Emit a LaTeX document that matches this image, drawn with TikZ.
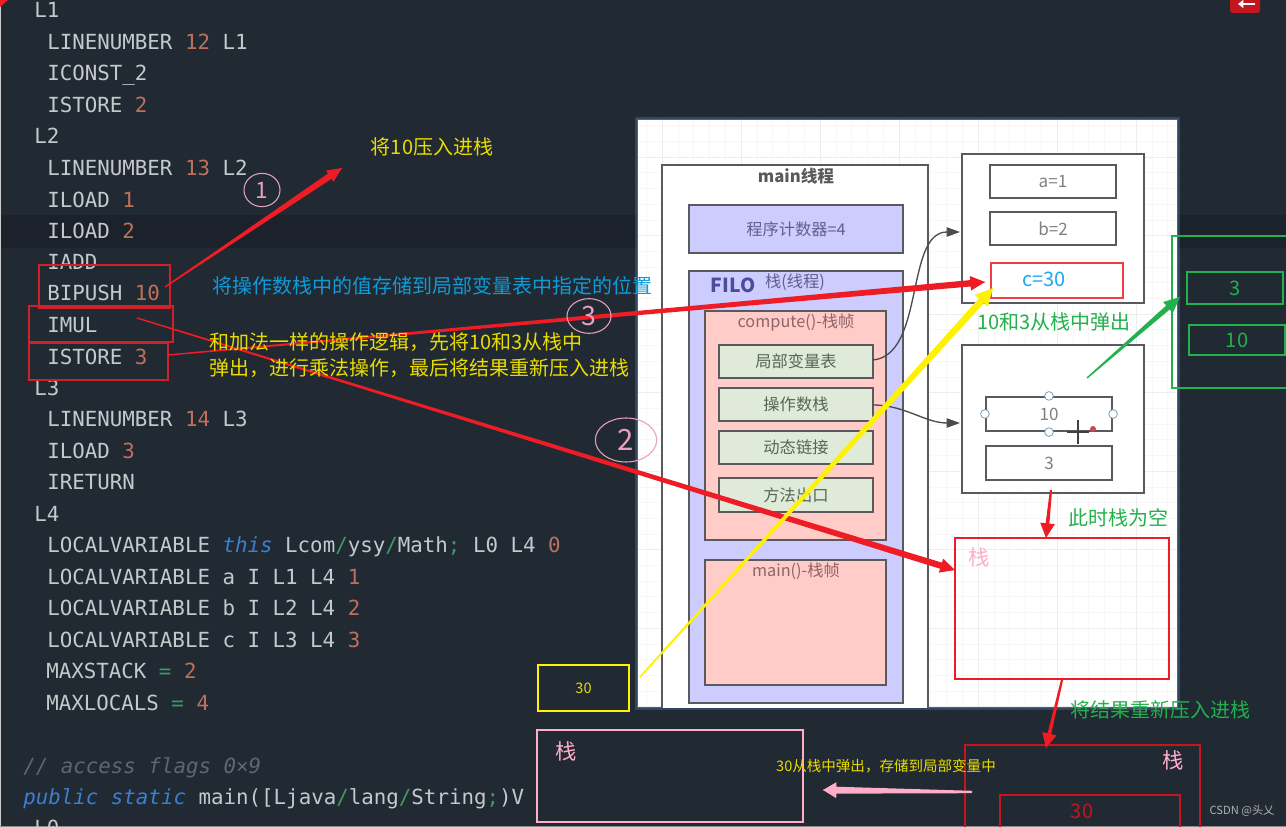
\documentclass[tikz,border=0pt]{standalone}
\usepackage{fontspec}
\setmainfont{Noto Sans CJK SC}
\newfontfamily\codef{DejaVu Sans Mono}
\usetikzlibrary{calc,arrows.meta,shapes.geometric}
\definecolor{bgc}{HTML}{212933}
\definecolor{bandc}{HTML}{1B222B}
\definecolor{codec}{HTML}{C4C9CC}
\definecolor{numc}{HTML}{C0705A}
\definecolor{slashc}{HTML}{3E9A60}
\definecolor{kwc}{HTML}{3A7FD0}
\definecolor{cmtc}{HTML}{5C6772}
\definecolor{redc}{HTML}{EE1C25}
\definecolor{dredc}{HTML}{C4161F}
\definecolor{boxred}{HTML}{D0202A}
\definecolor{yelc}{HTML}{FFF200}
\definecolor{txtyel}{HTML}{E8DC00}
\definecolor{grnc}{HTML}{22B14C}
\definecolor{pinkc}{HTML}{FFAEC9}
\definecolor{handc}{HTML}{E8A0BF}
\definecolor{bluet}{HTML}{0F9AD8}
\definecolor{cyant}{HTML}{1EA7F0}
\definecolor{edgec}{HTML}{5A5A5E}
\definecolor{grayt}{HTML}{808080}
\definecolor{bluef}{HTML}{CCCCFF}
\definecolor{pinkf}{HTML}{FFCCC7}
\definecolor{greenf}{HTML}{DFEBD8}
\definecolor{pct}{HTML}{5F5F90}
\definecolor{grt}{HTML}{566656}
\definecolor{pkt}{HTML}{8F6464}
\definecolor{glowc}{HTML}{4A7FB5}
\tikzset{
  codetxt/.style={anchor=base west,inner sep=0pt,text=codec,font=\codef\fontsize{15.6}{18}\selectfont},
  lbl/.style={inner sep=0pt,font=\fontsize{15}{18}\selectfont},
  smalllbl/.style={inner sep=0pt,font=\fontsize{10.9}{13}\selectfont},
  grayl/.style={inner sep=0pt,font=\fontsize{12.2}{14}\selectfont},
  redbox/.style={draw=boxred,line width=1.1pt},
  grnbox/.style={draw=grnc,line width=0.8pt},
  greybox/.style={draw=edgec,line width=1.6pt,fill=white},
  bluebox/.style={draw=edgec,line width=1.8pt,fill=bluef},
  pinkbox/.style={draw=edgec,line width=1.8pt,fill=pinkf},
  greenbox/.style={draw=edgec,line width=1.6pt,fill=greenf},
  handle/.style={circle,draw=cyan!30!gray,fill=white,line width=.6pt,inner sep=0pt,minimum size=6.5pt},
  handcirc/.style={draw=handc,line width=.8pt,ellipse,inner sep=0pt}
}
\newcommand\cn[1]{\textcolor{numc}{#1}}
\newcommand\cs[1]{\textcolor{slashc}{#1}}
\newcommand\ck[1]{\textcolor{kwc}{\itshape #1}}
\newcommand\bx[7]{\pgfmathsetmacro\bxw{(#5-#3)*0.75}\pgfmathsetmacro\bxh{(#6-#4)*0.75}%
  \node[rectangle,inner sep=0pt,minimum width=\bxw pt,minimum height=\bxh pt,#2] (#1) at ({(#3+#5)/2},{(#4+#6)/2}) {#7};}
\newcommand\taper[7]{\coordinate (tn) at ($(#3)!#6!(#2)$);%
  \fill[#1] ($(#2)!#4!90:(#3)$) -- ($(tn)!#5!90:(#3)$) -- ($(tn)!#7!90:(#3)$) -- (#3) -- ($(tn)!#7!-90:(#3)$) -- ($(tn)!#5!-90:(#3)$) -- ($(#2)!#4!-90:(#3)$) -- cycle;%
  \draw[#1,line width=.4pt] (#2) -- (#3);}
\begin{document}
\begin{tikzpicture}[x=0.75pt,y=-0.75pt]
\useasboundingbox (0,0) rectangle (1286,827);
\clip (0,0) rectangle (1286,827);
\fill[bgc] (0,0) rectangle (1286,827);
\fill[bandc] (0,215) rectangle (1286,248);
\fill[black!20!white] (0,0) rectangle (1.5,827);
\fill[black!45!white] (0,825.5) rectangle (1286,827);
\fill[redc] (0,0) -- (8,0) -- (0,7) -- cycle;
\fill[dredc,rounded corners=2pt] (1230,-4) rectangle (1260,13);
\draw[white,line width=1.5pt,-{Triangle[length=4pt,width=6pt]}] (1255,4) -- (1238,4);
% code
\node[codetxt] (c1) at (34,17.5) {L1};
\node[codetxt] (c2) at (47,49.5) {LINENUMBER \cn{12} L1};
\node[codetxt] (c3) at (47,80.5) {ICONST\_2};
\node[codetxt] (c4) at (47,112.5) {ISTORE \cn{2}};
\node[codetxt] (c5) at (34,143.5) {L2};
\node[codetxt] (c6) at (47,175.5) {LINENUMBER \cn{13} L2};
\node[codetxt] (c7) at (47,207.5) {ILOAD \cn{1}};
\node[codetxt] (c8) at (47,238.5) {ILOAD \cn{2}};
\node[codetxt] (c9) at (47,269.5) {IADD};
\node[codetxt] (c10) at (47,300.5) {BIPUSH \cn{10}};
\node[codetxt] (c11) at (47,332.5) {IMUL};
\node[codetxt] (c12) at (47,364.5) {ISTORE \cn{3}};
\node[codetxt] (c13) at (34,395.5) {L3};
\node[codetxt] (c14) at (47,426.5) {LINENUMBER \cn{14} L3};
\node[codetxt] (c15) at (47,458.5) {ILOAD \cn{3}};
\node[codetxt] (c16) at (47,489.5) {IRETURN};
\node[codetxt] (c17) at (34,521.5) {L4};
\node[codetxt] (c18) at (47,552.5) {LOCALVARIABLE \ck{this} Lcom\cs{/}ysy\cs{/}Math\cs{;} L0 L4 \cn{0}};
\node[codetxt] (c19) at (47,584.5) {LOCALVARIABLE a I L1 L4 \cn{1}};
\node[codetxt] (c20) at (47,615.5) {LOCALVARIABLE b I L2 L4 \cn{2}};
\node[codetxt] (c21) at (47,647.5) {LOCALVARIABLE c I L3 L4 \cn{3}};
\node[codetxt] (c22) at (46,678.5) {MAXSTACK \cs{=} \cn{2}};
\node[codetxt] (c23) at (46,710.5) {MAXLOCALS \cs{=} \cn{4}};
\node[codetxt,text=cmtc] (c24) at (23,773.5) {\itshape // access flags 0×9};
\node[codetxt] (c25) at (23,804.5) {\ck{public} \ck{static} main([Ljava\cs{/}lang\cs{/}String\cs{;})V};
\node[codetxt] (c26) at (34,835.5) {L0};
% red boxes on code
\bx{bip}{redbox}{39}{265}{170}{308}{}
\bx{imu}{redbox}{29}{306}{173}{342}{}
\bx{ist}{redbox}{29}{343}{168}{380}{}
% panel
\fill[glowc,opacity=.35] (635,117) rectangle (1180,710);
\fill[glowc,opacity=.6] (637,119) rectangle (1178,708);
\fill[white] (638,120) rectangle (1177,707);
\begin{scope}
\clip (638,120) rectangle (1177,707);
\foreach \i in {-2,...,34} \draw[black!3,line width=.3pt] ({662+\i*15.8},120) -- ({662+\i*15.8},707);
\foreach \i in {-2,...,36} \draw[black!3,line width=.3pt] (638,{157+\i*15.7}) -- (1177,{157+\i*15.7});
\foreach \i in {0,...,6} \draw[black!7,line width=.5pt] ({662+\i*79},120) -- ({662+\i*79},707);
\foreach \i in {0,...,7} \draw[black!7,line width=.5pt] (638,{157+\i*78.5}) -- (1177,{157+\i*78.5});
\bx{mainth}{greybox}{662}{165}{928}{760}{}
\end{scope}
\node[lbl,text=edgec,font=\bfseries\fontsize{12.5}{14}\selectfont] (mainl) at (796,176) {main线程};
\bx{pc}{bluebox,text=pct}{689}{205}{903}{253}{\fontsize{12.2}{14}\selectfont 程序计数器=4}
\bx{stk}{bluebox}{689}{271}{903}{703}{}
\node[inner sep=0pt,text=black!55!blue!70,font=\bfseries\fontsize{14.5}{16}\selectfont] (filo) at (733,285) {FILO};
\node[grayl,text=pct] (stkl) at (795,282) {栈(线程)};
\bx{cmp}{pinkbox}{705}{311}{886}{540}{}
\node[grayl,text=pkt] (cmpl) at (796,323) {compute()-栈帧};
\bx{lv}{greenbox,text=grt}{719}{345}{873}{378}{\fontsize{12.2}{14}\selectfont 局部变量表}
\bx{os}{greenbox,text=grt}{719}{388}{873}{421}{\fontsize{12.2}{14}\selectfont 操作数栈}
\bx{dl}{greenbox,text=grt}{719}{431}{873}{464}{\fontsize{12.2}{14}\selectfont 动态链接}
\bx{me}{greenbox,text=grt}{719}{478}{873}{512}{\fontsize{12.2}{14}\selectfont 方法出口}
\bx{mf}{pinkbox}{705}{560}{886}{685}{}
\node[grayl,text=pkt] (mfl) at (796,571) {main()-栈帧};
\bx{lvt}{greybox}{962}{154}{1144}{303}{}
\bx{va}{greybox,text=grayt}{990}{165}{1116}{198}{\fontsize{12.8}{14}\selectfont a=1}
\bx{vb}{greybox,text=grayt}{990}{212}{1116}{245}{\fontsize{12.8}{14}\selectfont b=2}
\bx{vc}{draw=redc!85,line width=1pt,fill=white}{991}{263}{1123}{298}{}
\node[lbl,text=cyant] (vct) at (1044,279) {c=30};
\bx{ost}{greybox}{962}{345}{1144}{493}{}
\bx{o10}{greybox,text=grayt}{986}{397}{1112}{431}{\fontsize{12.8}{14}\selectfont 10}
\bx{o3}{greybox,text=grayt}{986}{446}{1112}{480}{\fontsize{12.8}{14}\selectfont 3}
\node[handle] (h1) at (o10.north) {};
\node[handle] (h2) at (o10.south) {};
\node[handle] (h3) at (o10.west) {};
\node[handle] (h4) at (o10.east) {};
\coordinate (curs) at (1078,432);
\draw[black!75,line width=1pt] ($(curs)+(-11,0)$) -- ($(curs)+(11,0)$) ($(curs)+(0,-12)$) -- ($(curs)+(0,12)$);
\fill[red!70!black!70] (1093,429) circle[radius=3];
\coordinate (lvout) at (873,360); \coordinate (lvin) at (960,232);
\coordinate (osout) at (873,405); \coordinate (osin) at (960,423);
\draw[black!70,line width=1pt,-{Triangle[length=10pt,width=7pt]}] (lvout) .. controls (925,355) and (905,232) .. (lvin);
\draw[black!70,line width=1pt,-{Triangle[length=10pt,width=7pt]}] (osout) .. controls (905,405) and (925,423) .. (osin);
% overlay boxes
\bx{rstk}{draw=redc,line width=.9pt}{955}{538}{1169}{679}{}
\node[inner sep=0pt,text=pinkc,font=\fontsize{16}{18}\selectfont] (rstkl) at (979,557) {栈};
\bx{g}{grnbox}{1172}{236}{1300}{388}{}
\bx{g3}{grnbox,text=grnc}{1187}{272}{1283}{304}{\fontsize{15}{18}\selectfont 3}
\bx{g10}{grnbox,text=grnc}{1189}{325}{1285}{355}{\fontsize{15}{18}\selectfont 10}
\bx{y30}{draw=yelc,line width=1.3pt,text=txtyel}{538}{665}{629}{711}{\fontsize{10.9}{13}\selectfont 30}
\bx{pstk}{draw=pinkc,line width=1.3pt}{537}{730}{803}{822}{}
\node[inner sep=0pt,text=pinkc,font=\fontsize{16}{18}\selectfont] (pstkl) at (566,751) {栈};
\bx{dstk}{draw=dredc,line width=1pt}{965}{745}{1200}{860}{}
\node[inner sep=0pt,text=pinkc,font=\fontsize{16}{18}\selectfont] (dstkl) at (1173,760) {栈};
\bx{d30}{draw=dredc,line width=1pt,text=dredc}{1000}{795}{1180}{860}{}
\node[inner sep=0pt,text=dredc,font=\fontsize{15}{18}\selectfont] (d30t) at (1082,811) {30};
% arrows
\coordinate (a1s) at (165,287); \coordinate (a1e) at (342,168);
\coordinate (a2s) at (137,318); \coordinate (a2e) at (955,570);
\coordinate (a3s) at (168,355); \coordinate (a3e) at (985,282);
\coordinate (a4s) at (640,677); \coordinate (a4e) at (993,288);
\coordinate (a5s) at (1087,378); \coordinate (a5e) at (1180,297);
\coordinate (a6s) at (1051,490); \coordinate (a6e) at (1046,538);
\coordinate (a7s) at (1062,680); \coordinate (a7e) at (1046,748);
\coordinate (a8s) at (972,792); \coordinate (a8e) at (823,790);
\taper{redc}{a1s}{a1e}{.5pt}{2.4pt}{11pt}{5pt}
\taper{redc}{a2s}{a2e}{.5pt}{2.4pt}{11pt}{5.5pt}
\taper{redc}{a3s}{a3e}{.5pt}{2.4pt}{11pt}{5.5pt}
\taper{yelc}{a4s}{a4e}{.6pt}{2.6pt}{13pt}{6.5pt}
\taper{grnc}{a5s}{a5e}{.5pt}{2pt}{12pt}{5.5pt}
\taper{redc}{a6s}{a6e}{.8pt}{1.4pt}{11pt}{5.5pt}
\taper{redc}{a7s}{a7e}{.8pt}{1.4pt}{11pt}{5.5pt}
\taper{pinkc}{a8s}{a8e}{.9pt}{2.6pt}{10pt}{6pt}
% hand marks
\node[handcirc,minimum width=27pt,minimum height=25pt,text=handc,font=\fontsize{17}{18}\selectfont] (h1c) at (262,190) {1};
\node[handcirc,minimum width=46pt,minimum height=33pt,text=handc,font=\fontsize{22}{24}\selectfont] (h2c) at (626,440) {2};
\node[handcirc,minimum width=33pt,minimum height=26pt,text=handc,font=\fontsize{20}{22}\selectfont] (h3c) at (589,316) {3};
% labels
\node[lbl,text=txtyel] (t1) at (432,147) {将10压入进栈};
\node[lbl,text=bluet] (t2) at (432,286) {将操作数栈中的值存储到局部变量表中指定的位置};
\node[lbl,text=txtyel,anchor=west] (t3) at (209,342) {和加法一样的操作逻辑，先将10和3从栈中};
\node[lbl,text=txtyel,anchor=west] (t4) at (209,368) {弹出，进行乘法操作，最后将结果重新压入进栈};
\node[lbl,text=grnc] (t5) at (1054,322) {10和3从栈中弹出};
\node[lbl,text=grnc] (t6) at (1118,518) {此时栈为空};
\node[lbl,text=grnc] (t7) at (1160,710) {将结果重新压入进栈};
\node[smalllbl,text=txtyel] (t8) at (886,766) {30从栈中弹出，存储到局部变量中};
\node[inner sep=0pt,text=black!30,font=\fontsize{8.4}{10}\selectfont] (wm) at (1242,811) {CSDN @头乂};
\end{tikzpicture}
\end{document}
